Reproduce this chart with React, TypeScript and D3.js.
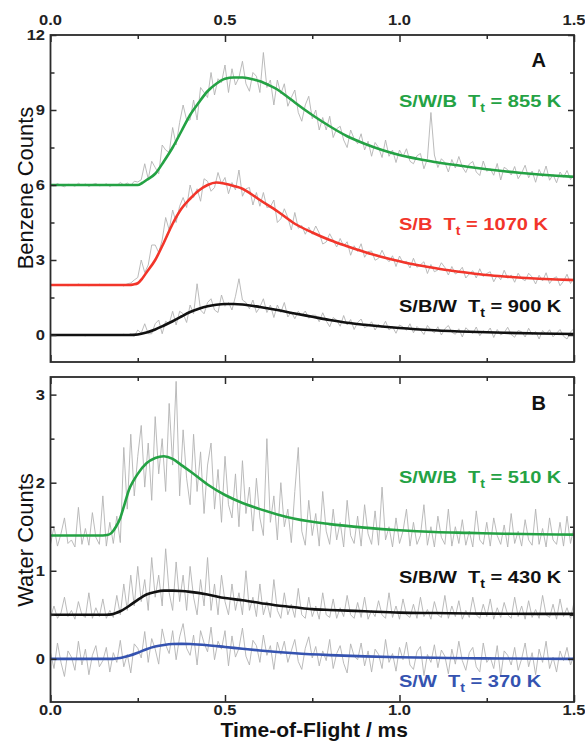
import React, { useRef, useEffect } from "react";
import * as d3 from "d3";

// time axis (ms)
const X_MAJOR = [0, 0.5, 1.0, 1.5];
const X_MINOR = [0.25, 0.75, 1.25];
const A_Y_MAJOR = [0, 3, 6, 9, 12];
const A_Y_MINOR = [1.5, 4.5, 7.5, 10.5];
const B_Y_MAJOR = [0, 1, 2, 3];
const B_Y_MINOR = [0.5, 1.5, 2.5];

// raw TOF channels, 0.01 ms wide (151 channels, 0 - 1.5 ms)
const CHANNEL_MS = 0.01;

// Panel A - benzene
const benzeneSWB = [
  6.02, 5.96, 6.06, 5.98, 5.93, 6.03, 6.01, 5.95, 6.07, 5.98,
  6.04, 5.94, 6.02, 6.06, 5.97, 5.99, 6.05, 5.94, 6.02, 5.98,
  6.1, 6.0, 6.08, 5.98, 6.15, 6.12, 6.21, 6.85, 6.24, 6.95,
  6.7, 6.45, 7.6, 7.4, 7.3, 8.3, 7.6, 8.5, 9.2, 8.6,
  8.6, 9.4, 8.6, 9.9, 9.7, 9.5, 10.5, 9.6, 10.25, 10.1,
  10.8, 9.7, 10.65, 10.0, 10.3, 10.95, 10.05, 9.75, 10.5, 10.35,
  9.7, 11.3, 9.9, 10.2, 9.2, 10.2, 9.65, 10.05, 9.15, 9.5,
  9.8, 8.9, 8.55, 9.2, 9.55, 8.65, 9.0, 8.2, 8.7, 8.2,
  8.75, 7.9, 8.25, 8.35, 7.8, 7.5, 8.2, 7.85, 7.65, 8.05,
  7.4, 7.75, 7.15, 7.7, 7.5, 7.1, 7.8, 7.15, 7.4, 6.9,
  7.4, 7.13, 7.45, 6.95, 6.85, 7.17, 7.26, 6.65, 7.05, 8.9,
  7.2, 6.7, 7.05, 6.9, 6.52, 7.02, 6.68, 7.14, 6.72, 6.5,
  6.84, 6.94, 6.52, 6.38, 6.96, 6.55, 6.65, 6.39, 6.86, 6.2,
  6.71, 6.61, 6.4, 6.74, 6.25, 6.48, 6.79, 6.29, 6.56, 6.11,
  6.62, 6.33, 6.76, 6.19, 6.42, 6.09, 6.52, 6.31, 6.58, 6.22,
  6.41,
];
const benzeneSB = [
  2.01, 1.99, 2.02, 2.0, 2.02, 1.97, 2.0, 1.98, 2.04, 1.99,
  2.02, 1.97, 2.01, 1.98, 2.03, 2.0, 1.98, 2.02, 1.99, 2.01,
  2.02, 1.96, 2.05, 2.08, 2.2, 2.3, 3.0, 2.5, 2.8, 3.6,
  3.6, 3.3, 3.8, 4.7, 4.2, 5.0, 4.5, 5.15, 5.5, 5.1,
  6.0, 5.5, 5.85, 5.35, 6.25, 6.15, 5.75, 5.9, 6.5, 6.05,
  6.3, 5.65, 6.1, 5.8, 6.6, 5.55, 5.85, 5.9, 5.2, 5.7,
  5.15, 5.7, 5.1, 5.13, 5.4, 4.5, 4.65, 5.05, 4.7, 4.2,
  4.9, 4.27, 4.38, 4.03, 4.31, 4.03, 4.36, 4.08, 3.64, 3.72,
  4.05, 3.79, 3.52, 3.86, 3.56, 3.73, 3.19, 3.57, 3.34, 3.65,
  3.11, 3.34, 3.36, 2.99, 3.07, 3.39, 3.09, 2.93, 3.17, 2.74,
  3.16, 2.89, 2.95, 2.68, 3.07, 2.71, 2.81, 2.93, 2.46, 2.82,
  2.53, 2.6, 2.89, 2.7, 2.4, 2.74, 2.44, 2.53, 2.71, 2.28,
  2.45, 2.57, 2.28, 2.65, 2.34, 2.46, 2.53, 2.13, 2.39, 2.21,
  2.59, 2.27, 2.4, 2.11, 2.47, 2.26, 2.17, 2.47, 2.32, 2.04,
  2.39, 2.16, 2.49, 2.06, 2.26, 2.33, 1.97, 2.15, 2.43, 2.06,
  2.28,
];
const benzeneSBW = [
  -0.01, 0.01, -0.02, 0.01, -0.01, 0.02, -0.02, 0.0, 0.02, -0.01,
  -0.03, 0.02, 0.0, -0.01, 0.02, -0.02, 0.01, -0.02, 0.01, 0.0,
  -0.02, 0.03, -0.01, 0.05, -0.05, 0.2, 0.08, 0.45, 0.05, 0.05,
  0.45, 0.6, 0.05, 0.55, 0.45, 0.95, 0.4, 0.95, 0.85, 0.5,
  1.2, 0.85, 2.05, 1.0, 0.85, 1.3, 1.45, 1.0, 0.9, 1.6,
  1.15, 1.3, 1.0, 1.55, 2.25, 1.4, 1.3, 1.05, 1.4, 0.9,
  1.12, 1.45, 0.9, 1.2, 0.7, 1.2, 0.9, 1.3, 0.72, 0.93,
  0.65, 0.95, 0.78, 0.96, 0.67, 0.79, 0.79, 0.53, 0.89, 0.57,
  0.33, 0.7, 0.59, 0.35, 0.78, 0.4, 0.62, 0.22, 0.5, 0.64,
  0.29, 0.37, 0.53, 0.2, 0.43, 0.29, 0.55, 0.2, 0.33, 0.07,
  0.4, 0.32, 0.19, 0.45, 0.09, 0.34, 0.2, 0.02, 0.38, 0.2,
  0.09, 0.33, 0.0, 0.25, 0.38, 0.11, 0.03, 0.25, -0.08, 0.29,
  0.16, 0.06, 0.32, -0.03, 0.17, 0.09, 0.28, -0.1, 0.22, 0.0,
  0.09, 0.31, 0.02, -0.09, 0.18, 0.13, -0.08, 0.27, 0.02, 0.14,
  -0.16, 0.18, 0.04, 0.21, -0.07, 0.07, 0.22, -0.05, -0.16, 0.12,
  0.26,
];

// Panel B - water
const waterSWB = [
  1.3, 1.5, 1.28, 1.42, 1.6, 1.31, 1.35, 1.27, 1.72, 1.3,
  1.48, 1.29, 1.66, 1.38, 1.3, 1.85, 1.28, 1.55, 1.31, 1.62,
  1.32, 2.4, 1.7, 2.55, 1.85, 2.3, 2.65, 1.95, 2.45, 1.8,
  2.75, 2.1, 2.5, 1.9, 2.9, 2.2, 3.15, 1.85, 2.6, 2.05,
  1.75, 2.55, 1.9, 2.35, 1.65, 2.2, 2.45, 1.7, 2.15, 1.55,
  2.3, 1.75, 1.6, 2.1, 1.5, 2.25, 1.65, 1.95, 1.45, 2.05,
  1.6, 1.4, 2.5, 1.55, 1.85, 1.35, 2.0, 1.5, 1.7, 1.32,
  1.9, 2.4, 1.45, 1.29, 1.8, 1.4, 1.65, 1.28, 1.9, 1.45,
  1.3, 1.7, 1.35, 1.55, 1.27, 1.8, 1.4, 1.31, 1.62, 1.28,
  1.75, 1.42, 1.3, 1.68, 1.29, 1.95, 1.35, 1.5, 1.27, 1.6,
  1.31, 1.45, 1.7, 1.28, 1.55, 1.3, 1.4, 1.75, 1.29, 1.5,
  1.27, 1.62, 1.38, 1.3, 1.7, 1.28, 1.5, 1.31, 1.58, 1.29,
  1.45, 1.27, 1.68, 1.35, 1.3, 1.55, 1.28, 1.6, 1.4, 1.3,
  1.52, 1.27, 1.65, 1.31, 1.45, 1.28, 1.58, 1.35, 1.29, 1.7,
  1.3, 1.48, 1.27, 1.6, 1.35, 1.3, 1.55, 1.28, 1.62, 1.31,
  1.5,
];
const waterSBW = [
  0.47, 0.6, 0.46, 0.52, 0.7, 0.48, 0.55, 0.45, 0.65, 0.5,
  0.47, 0.75, 0.46, 0.58, 0.48, 0.68, 0.46, 0.55, 0.47, 0.72,
  0.5, 0.85, 0.55, 0.95, 0.6, 1.05, 0.65, 0.9, 0.55, 1.15,
  0.7, 0.95, 0.6, 1.25, 0.75, 0.55, 1.1, 0.65, 0.95, 0.55,
  1.05, 0.7, 0.5, 0.9, 0.6, 1.15, 0.55, 0.85, 0.5, 0.95,
  0.65, 0.5, 0.85, 0.55, 0.75, 0.5, 1.0, 0.55, 0.7, 0.48,
  0.85, 0.5, 0.65, 0.47, 0.9, 0.55, 0.46, 0.75, 0.5, 0.62,
  0.47, 0.8, 0.5, 0.46, 0.7, 0.48, 0.6, 0.45, 0.75, 0.5,
  0.47, 0.68, 0.46, 0.58, 0.48, 0.72, 0.5, 0.46, 0.64, 0.47,
  0.7, 0.45, 0.55, 0.48, 0.66, 0.5, 0.46, 0.75, 0.47, 0.6,
  0.45, 0.68, 0.5, 0.47, 0.62, 0.46, 0.7, 0.48, 0.56, 0.45,
  0.65, 0.5, 0.47, 0.72, 0.46, 0.6, 0.48, 0.66, 0.45, 0.55,
  0.47, 0.7, 0.5, 0.46, 0.62, 0.48, 0.68, 0.45, 0.58, 0.47,
  0.64, 0.5, 0.46, 0.7, 0.48, 0.6, 0.45, 0.66, 0.47, 0.56,
  0.46, 0.72, 0.5, 0.47, 0.62, 0.45, 0.68, 0.48, 0.58, 0.46,
  0.64,
];
const waterSW = [
  0.07, -0.11, 0.18, -0.04, -0.2, 0.09, 0.02, -0.13, 0.2, -0.07,
  0.11, -0.18, 0.04, 0.15, -0.09, -0.02, 0.13, -0.15, 0.07, -0.04,
  0.21, -0.09, 0.05, -0.16, 0.17, 0.12, 0.01, 0.31, -0.04, 0.23,
  0.11, -0.06, 0.34, 0.16, 0.06, 0.32, -0.01, 0.25, 0.4, 0.12,
  0.04, 0.27, -0.07, 0.32, 0.18, 0.08, 0.36, -0.01, 0.2, 0.11,
  0.32, -0.08, 0.26, 0.02, 0.12, 0.35, 0.03, -0.07, 0.21, 0.15,
  -0.04, 0.27, 0.04, 0.15, -0.12, 0.19, 0.05, 0.2, -0.04, 0.09,
  0.22, -0.03, -0.12, 0.12, 0.25, 0.01, 0.14, -0.08, 0.09, -0.02,
  0.22, -0.11, 0.06, 0.15, -0.05, -0.16, 0.17, 0.03, -0.01, 0.18,
  -0.08, 0.09, -0.15, 0.11, 0.05, -0.11, 0.22, -0.04, 0.06, -0.14,
  0.13, -0.01, 0.19, -0.07, -0.12, 0.08, 0.14, -0.19, 0.05, -0.04,
  0.16, -0.1, 0.1, 0.03, -0.17, 0.11, -0.06, 0.2, -0.02, -0.13,
  0.07, 0.13, -0.09, -0.15, 0.18, -0.04, 0.02, -0.11, 0.15, -0.2,
  0.09, 0.04, -0.07, 0.13, -0.13, 0.0, 0.18, -0.09, 0.07, -0.18,
  0.11, -0.04, 0.2, -0.11, 0.02, -0.15, 0.09, -0.02, 0.13, -0.07,
  0.04,
];

// fitted TOF distributions, [t (ms), counts]
const benzeneSWBFit = [
  [0, 6], [0.25, 6], [0.2625, 6.08], [0.275, 6.2], [0.3, 6.45], [0.325, 6.95], [0.35, 7.5], [0.375, 8.15], [0.4, 8.8],
  [0.425, 9.3], [0.45, 9.75], [0.475, 10.05], [0.5, 10.25], [0.525, 10.3], [0.55, 10.3], [0.575, 10.24], [0.6, 10.15],
  [0.625, 10.0], [0.65, 9.82], [0.675, 9.57], [0.7, 9.3], [0.75, 8.8], [0.8, 8.35], [0.85, 7.95], [0.9, 7.65],
  [0.95, 7.4], [1.0, 7.2], [1.05, 7.05], [1.1, 6.92], [1.15, 6.82], [1.2, 6.72], [1.25, 6.63], [1.3, 6.55],
  [1.35, 6.48], [1.4, 6.42], [1.45, 6.37], [1.5, 6.33],
];
const benzeneSBFit = [
  [0, 2], [0.225, 2], [0.2375, 2.02], [0.25, 2.07], [0.2625, 2.25], [0.275, 2.5], [0.3, 3.0], [0.325, 3.7], [0.35, 4.45],
  [0.375, 5.05], [0.4, 5.45], [0.425, 5.78], [0.45, 6.0], [0.475, 6.1], [0.5, 6.05], [0.525, 5.96], [0.55, 5.85],
  [0.575, 5.64], [0.6, 5.4], [0.65, 4.95], [0.7, 4.45], [0.75, 4.1], [0.8, 3.8], [0.85, 3.55], [0.9, 3.32],
  [0.95, 3.12], [1.0, 2.95], [1.05, 2.8], [1.1, 2.68], [1.15, 2.57], [1.2, 2.48], [1.25, 2.4], [1.3, 2.34],
  [1.35, 2.29], [1.4, 2.25], [1.45, 2.22], [1.5, 2.2],
];
const benzeneSBWFit = [
  [0, 0], [0.225, 0], [0.25, 0.02], [0.275, 0.1], [0.3, 0.22], [0.325, 0.38], [0.35, 0.55], [0.375, 0.74], [0.4, 0.92],
  [0.425, 1.05], [0.45, 1.15], [0.475, 1.21], [0.5, 1.24], [0.525, 1.24], [0.55, 1.22], [0.6, 1.12], [0.65, 1.0],
  [0.7, 0.86], [0.75, 0.73], [0.8, 0.6], [0.85, 0.49], [0.9, 0.41], [0.95, 0.34], [1.0, 0.28], [1.1, 0.19],
  [1.2, 0.13], [1.3, 0.09], [1.4, 0.06], [1.5, 0.04],
];
const waterSWBFit = [
  [0, 1.4], [0.15, 1.4], [0.1625, 1.405], [0.175, 1.43], [0.1875, 1.5], [0.2, 1.6], [0.2125, 1.76], [0.225, 1.92],
  [0.2375, 2.02], [0.25, 2.1], [0.275, 2.22], [0.3, 2.28], [0.325, 2.3], [0.35, 2.27], [0.375, 2.2], [0.4, 2.13],
  [0.45, 1.98], [0.5, 1.86], [0.55, 1.77], [0.6, 1.7], [0.65, 1.64], [0.7, 1.59], [0.8, 1.53], [0.9, 1.49],
  [1.0, 1.46], [1.1, 1.44], [1.2, 1.43], [1.3, 1.42], [1.4, 1.415], [1.5, 1.41],
];
const waterSBWFit = [
  [0, 0.5], [0.16, 0.5], [0.175, 0.505], [0.1875, 0.52], [0.2, 0.54], [0.225, 0.6], [0.25, 0.67], [0.275, 0.73],
  [0.3, 0.76], [0.325, 0.775], [0.35, 0.775], [0.375, 0.77], [0.4, 0.76], [0.45, 0.73], [0.5, 0.69], [0.55, 0.665],
  [0.6, 0.635], [0.65, 0.605], [0.7, 0.585], [0.75, 0.565], [0.8, 0.555], [0.9, 0.54], [1.0, 0.525], [1.1, 0.52],
  [1.2, 0.515], [1.3, 0.512], [1.5, 0.51],
];
const waterSWFit = [
  [0, 0], [0.18, 0], [0.2, 0.01], [0.225, 0.035], [0.25, 0.07], [0.275, 0.11], [0.3, 0.14], [0.325, 0.158],
  [0.35, 0.168], [0.375, 0.17], [0.4, 0.168], [0.45, 0.155], [0.5, 0.135], [0.55, 0.115], [0.6, 0.095],
  [0.65, 0.078], [0.7, 0.063], [0.8, 0.042], [0.9, 0.028], [1.0, 0.018], [1.1, 0.012], [1.2, 0.007],
  [1.3, 0.004], [1.5, 0.0],
];

const GREEN = "#24a244";
const RED = "#f2352a";
const BLACK = "#111111";
const BLUE = "#3553b0";
const GRAY = "#b3b3b3";
const AXIS = "#2b2b2b";
const FONT = "'Liberation Sans', Arial, Helvetica, sans-serif";

const W = 585;
const H = 746;
const LEFT = 50.5;
const RIGHT = 574;
// the original artwork is slightly wider than tall
const STRETCH = 1.18;

const App = () => {
  const svgRef = useRef<SVGSVGElement>(null);

  useEffect(() => {
    const svgEl = svgRef.current;
    if (!svgEl) return;
    const svg = d3.select(svgEl);
    svg.selectAll("*").remove();

    const x = d3.scaleLinear().domain([0, 1.5]).range([LEFT, RIGHT]);

    const panels = [
      {
        id: "A",
        top: 35,
        bottom: 362,
        domain: [-1.08, 12],
        yMajor: A_Y_MAJOR,
        yMinor: A_Y_MINOR,
        title: "Benzene Counts",
        titleY: 188,
        topLabels: true,
        bottomLabels: false,
        letterY: 67,
        series: [
          { data: benzeneSWB, fit: benzeneSWBFit, color: GREEN, name: "S/W/B", temp: "855", ly: 107 },
          { data: benzeneSB, fit: benzeneSBFit, color: RED, name: "S/B", temp: "1070", ly: 230 },
          { data: benzeneSBW, fit: benzeneSBWFit, color: BLACK, name: "S/B/W", temp: "900", ly: 312 },
        ],
      },
      {
        id: "B",
        top: 377,
        bottom: 702,
        domain: [-0.49, 3.2],
        yMajor: B_Y_MAJOR,
        yMinor: B_Y_MINOR,
        title: "Water Counts",
        titleY: 540,
        topLabels: false,
        bottomLabels: true,
        letterY: 410,
        series: [
          { data: waterSWB, fit: waterSWBFit, color: GREEN, name: "S/W/B", temp: "510", ly: 483 },
          { data: waterSBW, fit: waterSBWFit, color: BLACK, name: "S/B/W", temp: "430", ly: 583 },
          { data: waterSW, fit: waterSWFit, color: BLUE, name: "S/W", temp: "370", ly: 687 },
        ],
      },
    ];

    const tickLabel = (g, tx, ty, anchor, txt) =>
      g
        .append("text")
        .attr("transform", `translate(${tx},${ty}) scale(${STRETCH},1)`)
        .attr("text-anchor", anchor)
        .attr("fill", "#222")
        .style("font-family", FONT)
        .style("font-size", "14px")
        .style("font-weight", "bold")
        .text(txt);

    panels.forEach((p) => {
      const y = d3.scaleLinear().domain(p.domain).range([p.bottom, p.top]);
      const g = svg.append("g");

      const clipId = `clip-${p.id}`;
      svg
        .append("clipPath")
        .attr("id", clipId)
        .append("rect")
        .attr("x", LEFT)
        .attr("y", p.top)
        .attr("width", RIGHT - LEFT)
        .attr("height", p.bottom - p.top);

      const plot = g.append("g").attr("clip-path", `url(#${clipId})`);

      const rawLine = d3
        .line<number>()
        .x((_, i) => x(i * CHANNEL_MS))
        .y((d) => y(d));
      const fitLine = d3
        .line<number[]>()
        .x((d) => x(d[0]))
        .y((d) => y(d[1]))
        .curve(d3.curveMonotoneX);

      p.series.forEach((s) => {
        plot
          .append("path")
          .attr("d", rawLine(s.data))
          .attr("fill", "none")
          .attr("stroke", GRAY)
          .attr("stroke-width", 0.9);
      });
      p.series.forEach((s) => {
        plot
          .append("path")
          .attr("d", fitLine(s.fit))
          .attr("fill", "none")
          .attr("stroke", s.color)
          .attr("stroke-width", 2.6);
      });

      // tick marks only, pointing inward; labels drawn below
      const ticks = (axis, tx, ty) =>
        g
          .append("g")
          .attr("transform", `translate(${tx},${ty})`)
          .call(axis.tickFormat(() => ""))
          .call((sel) => {
            sel.select(".domain").remove();
            sel.selectAll("line").attr("stroke", AXIS).attr("stroke-width", 1.5);
          });

      ticks(d3.axisTop(x).tickValues(X_MAJOR).tickSize(-7), 0, p.top);
      ticks(d3.axisTop(x).tickValues(X_MINOR).tickSize(-4), 0, p.top);
      ticks(d3.axisBottom(x).tickValues(X_MAJOR).tickSize(-7), 0, p.bottom);
      ticks(d3.axisBottom(x).tickValues(X_MINOR).tickSize(-4), 0, p.bottom);
      ticks(d3.axisLeft(y).tickValues(p.yMajor).tickSize(-6), LEFT, 0);
      ticks(d3.axisLeft(y).tickValues(p.yMinor).tickSize(-4), LEFT, 0);
      ticks(d3.axisRight(y).tickValues(p.yMajor).tickSize(-6), RIGHT, 0);
      ticks(d3.axisRight(y).tickValues(p.yMinor).tickSize(-4), RIGHT, 0);

      const fmt = d3.format(".1f");
      if (p.topLabels) X_MAJOR.forEach((v) => tickLabel(g, x(v), 25, "middle", fmt(v)));
      if (p.bottomLabels) X_MAJOR.forEach((v) => tickLabel(g, x(v), 715, "middle", fmt(v)));
      p.yMajor.forEach((v) => tickLabel(g, 45, y(v) + 5, "end", String(v)));

      g.append("rect")
        .attr("x", LEFT)
        .attr("y", p.top)
        .attr("width", RIGHT - LEFT)
        .attr("height", p.bottom - p.top)
        .attr("fill", "none")
        .attr("stroke", AXIS)
        .attr("stroke-width", 1.8);

      // panel letter
      g.append("text")
        .attr("x", 546)
        .attr("y", p.letterY)
        .attr("text-anchor", "end")
        .attr("fill", "#111")
        .style("font-family", FONT)
        .style("font-size", "20px")
        .style("font-weight", "bold")
        .text(p.id);

      // y title
      g.append("text")
        .attr("transform", `translate(33,${p.titleY}) rotate(-90)`)
        .attr("text-anchor", "middle")
        .attr("fill", "#111")
        .style("font-family", FONT)
        .style("font-size", "22px")
        .text(p.title);

      // series labels
      p.series.forEach((s) => {
        const t = g
          .append("text")
          .attr("transform", `translate(399,${s.ly}) scale(${STRETCH},1)`)
          .attr("fill", s.color)
          .style("font-family", FONT)
          .style("font-size", "17px")
          .style("font-weight", "bold")
          .style("white-space", "pre");
        t.append("tspan").text(`${s.name}  T`);
        t.append("tspan").attr("dy", 5).style("font-size", "12px").text("t");
        t.append("tspan").attr("dy", -5).text(` = ${s.temp} K`);
      });
    });

    svg
      .append("text")
      .attr("x", (LEFT + RIGHT) / 2 + 2)
      .attr("y", 737)
      .attr("text-anchor", "middle")
      .attr("fill", "#111")
      .style("font-family", FONT)
      .style("font-size", "21px")
      .style("font-weight", "bold")
      .text("Time-of-Flight / ms");
  }, []);

  return (
    <div style={{ position: "absolute", left: 0, top: 0, width: W, height: H, background: "#fff" }}>
      <svg ref={svgRef} width={W} height={H} style={{ display: "block" }} />
    </div>
  );
};

export default App;
